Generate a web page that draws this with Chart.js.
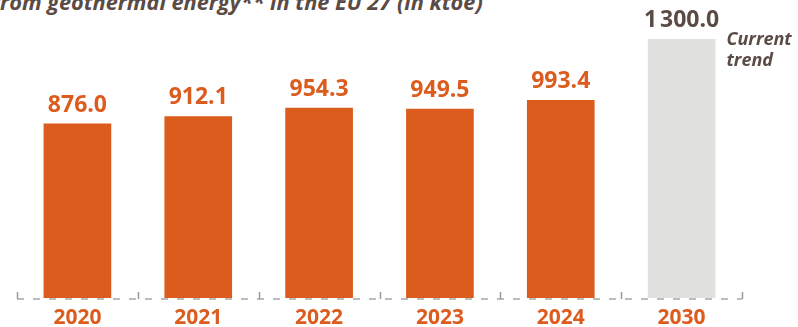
<!DOCTYPE html>
<html lang="en">
<head>
    <meta charset="UTF-8">
    <title>Geothermal energy EU 27</title>
    <script src="https://cdn.jsdelivr.net/npm/chart.js"></script>
    <style>
        body {
            margin: 0;
            padding: 0;
            background: #ffffff;
            overflow: hidden;
        }

        .wrap {
            position: relative;
            width: 798px;
            height: 327px;
        }

        .title {
            position: absolute;
            left: -8px;
            top: -13px;
            font-family: "Open Sans", sans-serif;
            font-style: italic;
            font-weight: 700;
            font-size: 21.7px;
            color: #5b4b45;
            white-space: nowrap;
        }

        canvas {
            position: absolute;
            left: 0;
            top: 0;
        }
    </style>
</head>
<body>
    <div class="wrap">
        <div class="title">from geothermal energy** in the EU 27 (in ktoe)</div>
        <canvas id="geoChart" width="798" height="327"></canvas>
    </div>

    <script>
        // Données
        const years = ['2020', '2021', '2022', '2023', '2024', '2030'];
        const values = [876.0, 912.1, 954.3, 949.5, 993.4, 1300.0];
        const valueLabels = ['876.0', '912.1', '954.3', '949.5', '993.4', '1\u202F300.0'];
        const trendNote = ['Current', 'trend'];

        const orange = '#dc5c1e';
        const grey = '#e1e1e0';
        const brown = '#5b4b45';
        const barColors = values.map((v, i) => i === values.length - 1 ? grey : orange);
        const labelColors = values.map((v, i) => i === values.length - 1 ? brown : orange);

        // Axe en pointillés avec petits traits entre les catégories
        const dashedAxis = {
            id: 'dashedAxis',
            afterDatasetsDraw(chart) {
                const ctx = chart.ctx;
                const area = chart.chartArea;
                const x = chart.scales.x;
                const y0 = area.bottom + 1;
                ctx.save();
                ctx.strokeStyle = '#a8a8a8';
                ctx.lineWidth = 1.5;
                ctx.setLineDash([7, 9]);
                ctx.beginPath();
                ctx.moveTo(area.left, y0);
                ctx.lineTo(area.right, y0);
                ctx.stroke();

                ctx.setLineDash([]);
                ctx.strokeStyle = '#9a9a9a';
                const half = (x.getPixelForValue(1) - x.getPixelForValue(0)) / 2;
                for (let i = 0; i <= years.length; i++) {
                    const px = Math.round(x.getPixelForValue(i) - half) + 0.5;
                    ctx.beginPath();
                    ctx.moveTo(px, y0);
                    ctx.lineTo(px, y0 - 7);
                    ctx.stroke();
                }
                ctx.restore();
            }
        };

        // Étiquettes au-dessus des barres + note "Current trend"
        const barLabels = {
            id: 'barLabels',
            afterDatasetsDraw(chart) {
                const ctx = chart.ctx;
                const meta = chart.getDatasetMeta(0);
                ctx.save();
                ctx.textAlign = 'center';
                ctx.textBaseline = 'bottom';
                ctx.font = 'bold 23px "Open Sans", sans-serif';
                meta.data.forEach((bar, i) => {
                    ctx.fillStyle = labelColors[i];
                    ctx.fillText(valueLabels[i], bar.x, bar.y - 7);
                });

                const last = meta.data[meta.data.length - 1];
                ctx.textAlign = 'left';
                ctx.textBaseline = 'alphabetic';
                ctx.fillStyle = brown;
                ctx.font = 'italic bold 18px "Open Sans", sans-serif';
                trendNote.forEach((line, i) => {
                    ctx.fillText(line, last.x + last.width / 2 + 11, last.y + 6 + i * 21);
                });
                ctx.restore();
            }
        };

        new Chart(document.getElementById('geoChart'), {
            type: 'bar',
            data: {
                labels: years,
                datasets: [{
                    data: values,
                    backgroundColor: barColors,
                    borderWidth: 0,
                    categoryPercentage: 0.56,
                    barPercentage: 1.0
                }]
            },
            options: {
                responsive: false,
                animation: false,
                layout: {
                    padding: { left: 17, right: 56, top: 39, bottom: 0 }
                },
                plugins: {
                    legend: { display: false },
                    tooltip: { enabled: false }
                },
                scales: {
                    x: {
                        afterFit: scale => { scale.height = 29; },
                        grid: { display: false },
                        border: { display: false },
                        ticks: {
                            color: orange,
                            padding: -1,
                            font: { family: '"Open Sans", sans-serif', size: 21, weight: 'bold' }
                        }
                    },
                    y: {
                        display: false,
                        min: 0,
                        max: 1300
                    }
                }
            },
            plugins: [barLabels, dashedAxis]
        });
    </script>
</body>
</html>
